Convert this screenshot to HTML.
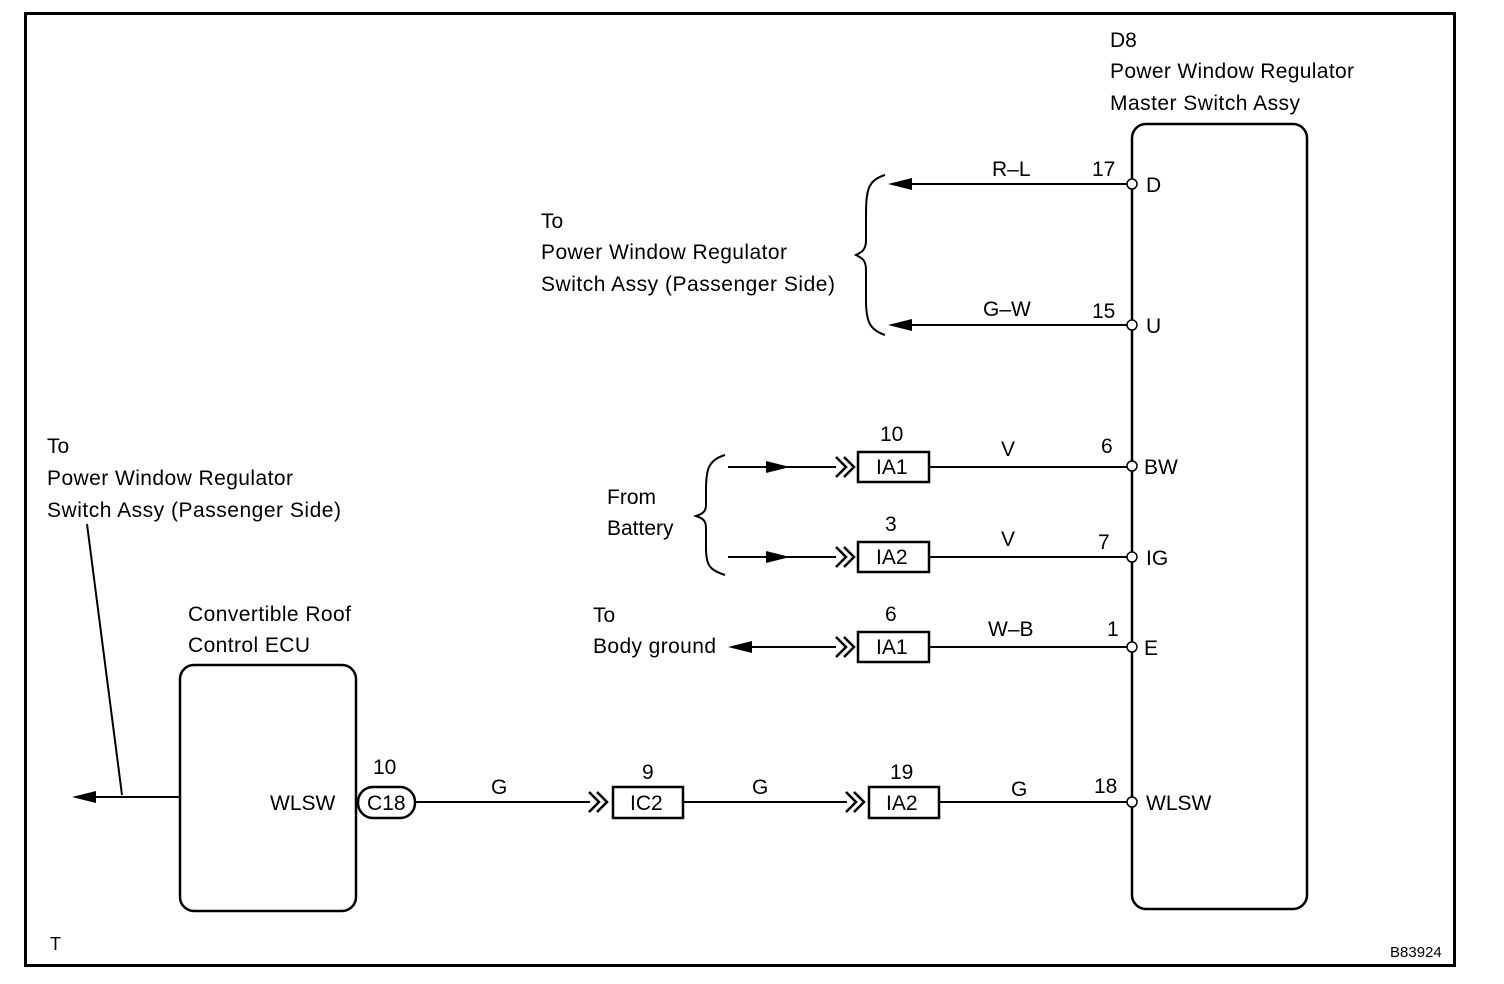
<!DOCTYPE html>
<html><head><meta charset="utf-8"><style>
html,body{margin:0;padding:0;background:#fff}
svg{display:block}
text{font-family:"Liberation Sans",Arial,sans-serif;font-size:21px;fill:#000}
</style></head><body>
<svg width="1504" height="984" viewBox="0 0 1504 984" xmlns="http://www.w3.org/2000/svg">
<defs>
<marker id="a" viewBox="0 0 10 10" refX="10" refY="5" markerWidth="24" markerHeight="12" markerUnits="userSpaceOnUse" orient="auto"><path d="M0,0 L10,5 L0,10 Z"/></marker>
</defs>
<rect x="25.5" y="13.5" width="1429" height="952" fill="none" stroke="#000" stroke-width="3"/>
<g fill="none" stroke="#000">
<!-- master box -->
<rect x="1132" y="124" width="175" height="785" rx="14" stroke-width="2.5"/>
<!-- ECU box -->
<rect x="180" y="665" width="176" height="246" rx="14" stroke-width="2.5"/>
<!-- wires -->
<g stroke-width="2">
<line x1="1127" y1="184" x2="912" y2="184"/>
<line x1="1127" y1="325" x2="912" y2="325"/>
<line x1="929" y1="467" x2="1127" y2="467"/>
<line x1="929" y1="557" x2="1127" y2="557"/>
<line x1="929" y1="647" x2="1127" y2="647"/>
<line x1="939" y1="802" x2="1127" y2="802"/>
<line x1="728" y1="467" x2="836" y2="467"/>
<line x1="728" y1="557" x2="836" y2="557"/>
<line x1="752" y1="647" x2="836" y2="647"/>
<line x1="415" y1="802" x2="590" y2="802"/>
<line x1="683" y1="802" x2="847" y2="802"/>
<line x1="180" y1="797" x2="94" y2="797"/>
<line x1="87" y1="524" x2="122" y2="795"/>
</g>
<!-- braces -->
<path d="M885,175 C868,180 866,190 866,215 L866,240 C866,250 862,252 856,255 C862,258 866,260 866,270 L866,300 C866,322 870,330 885,335" stroke-width="2"/>
<path d="M725,455 C708,460 706,470 706,490 L706,505 C706,512 702,514 696,516 C702,518 706,520 706,528 L706,548 C706,566 710,570 725,575" stroke-width="2"/>
<!-- chevrons -->
<g stroke-width="2.5">
<path d="M836,457 L846,467 L836,477 M844,457 L854,467 L844,477"/>
<path d="M836,547 L846,557 L836,567 M844,547 L854,557 L844,567"/>
<path d="M836,637 L846,647 L836,657 M844,637 L854,647 L844,657"/>
<path d="M589,792 L599,802 L589,812 M597,792 L607,802 L597,812"/>
<path d="M846,792 L856,802 L846,812 M854,792 L864,802 L854,812"/>
</g>
<!-- connector rects -->
<g stroke-width="2.5">
<rect x="858" y="452" width="71" height="30"/>
<rect x="858" y="542" width="71" height="30"/>
<rect x="858" y="632" width="71" height="30"/>
<rect x="613" y="787" width="70" height="31"/>
<rect x="869" y="787" width="70" height="31"/>
<rect x="358" y="787" width="57" height="31" rx="15"/>
</g>
</g>
<!-- arrowheads -->
<g fill="#000">
<path d="M888,184 L912,178 L912,190 Z"/>
<path d="M888,325 L912,319 L912,331 Z"/>
<path d="M790,467 L766,461 L766,473 Z"/>
<path d="M790,557 L766,551 L766,563 Z"/>
<path d="M728,647 L752,641 L752,653 Z"/>
<path d="M72,797 L96,791 L96,803 Z"/>
</g>
<!-- pins -->
<g fill="#fff" stroke="#000" stroke-width="1.5">
<circle cx="1132" cy="184" r="5"/><circle cx="1132" cy="325" r="5"/>
<circle cx="1132" cy="466" r="5"/><circle cx="1132" cy="557" r="5"/>
<circle cx="1132" cy="647" r="5"/><circle cx="1132" cy="802" r="5"/>
</g>
<!-- texts -->
<text x="1110" y="47">D8</text>
<text x="1110" y="78" textLength="244">Power Window Regulator</text>
<text x="1110" y="110" textLength="190">Master Switch Assy</text>
<text x="541" y="228">To</text>
<text x="541" y="259" textLength="246">Power Window Regulator</text>
<text x="541" y="291" textLength="294">Switch Assy (Passenger Side)</text>
<text x="47" y="453">To</text>
<text x="47" y="485" textLength="246">Power Window Regulator</text>
<text x="47" y="517" textLength="294">Switch Assy (Passenger Side)</text>
<text x="992" y="176">R–L</text><text x="1092" y="176">17</text><text x="1146" y="192">D</text>
<text x="983" y="316">G–W</text><text x="1092" y="318">15</text><text x="1146" y="333">U</text>
<text x="880" y="441">10</text><text x="1001" y="456">V</text><text x="1101" y="453">6</text><text x="1144" y="474">BW</text>
<text x="885" y="531">3</text><text x="1001" y="546">V</text><text x="1098" y="549">7</text><text x="1146" y="565">IG</text>
<text x="885" y="621">6</text><text x="988" y="636">W–B</text><text x="1107" y="636">1</text><text x="1144" y="655">E</text>
<text x="642" y="779">9</text><text x="890" y="779">19</text><text x="1094" y="793">18</text><text x="1146" y="810">WLSW</text>
<text x="491" y="794">G</text><text x="752" y="794">G</text><text x="1011" y="796">G</text>
<text x="373" y="774">10</text>
<text x="607" y="504">From</text><text x="607" y="535">Battery</text>
<text x="593" y="622">To</text><text x="593" y="653" textLength="123">Body ground</text>
<text x="188" y="621" textLength="163">Convertible Roof</text>
<text x="188" y="652" textLength="122">Control ECU</text>
<text x="270" y="810">WLSW</text>
<text x="876" y="474">IA1</text><text x="876" y="564">IA2</text><text x="876" y="654">IA1</text>
<text x="630" y="810">IC2</text><text x="886" y="810">IA2</text><text x="367" y="810">C18</text>
<text x="50" y="950" style="font-size:18px">T</text>
<text x="1390" y="957" style="font-size:15px">B83924</text>
</svg>
</body></html>
